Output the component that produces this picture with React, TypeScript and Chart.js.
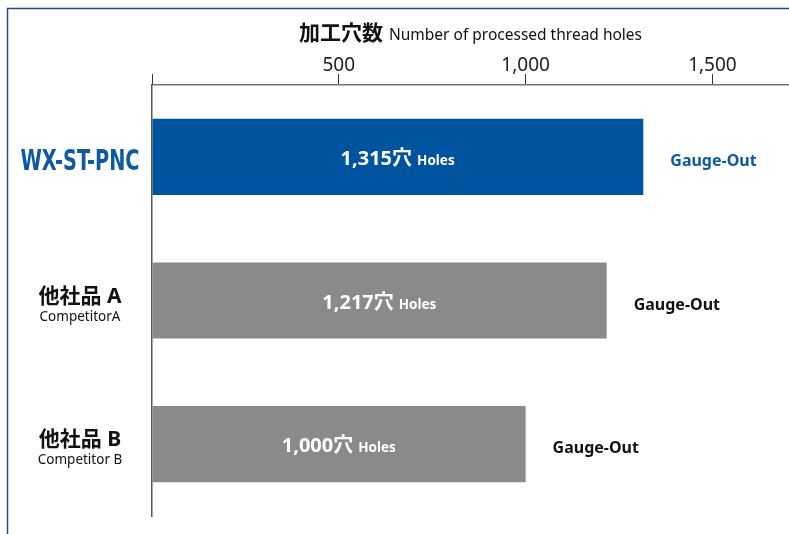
import React, { useEffect, useRef } from 'react';
import { Chart, registerables } from 'chart.js';

Chart.register(...registerables);

// ---- data ----
const categories = ['WX-ST-PNC', '他社品 A', '他社品 B'];
const subLabels = ['', 'CompetitorA', 'Competitor B'];
const values = [1315, 1217, 1000];
const unitJa = '穴';
const unitEn = 'Holes';
const statusLabels = ['Gauge-Out', 'Gauge-Out', 'Gauge-Out'];
const titleJa = '加工穴数';
const titleEn = 'Number of processed thread holes';
const tickValues = [0, 500, 1000, 1500];
const axisMax = 1705;

// ---- styles ----
const BLUE = '#00549f';
const GRAY = '#898a8c';
const TEXT_BLUE = '#0d5aa3';
const FRAME = '#1d4f7f';
const FONT = '"Noto Sans", "Noto Sans CJK JP", sans-serif';
const NARROW = '"Liberation Sans Narrow", "DejaVu Sans Condensed", "Noto Sans", sans-serif';

const fmt = (v: number) => v.toLocaleString('en-US');

export default function App() {
  const ref = useRef<HTMLCanvasElement>(null);

  useEffect(() => {
    const canvas = ref.current!;
    const labelPlugin = {
      id: 'customLabels',
      beforeDraw(chart: any) {
        const ctx = chart.ctx;
        ctx.save();
        ctx.strokeStyle = FRAME;
        ctx.lineWidth = 1.5;
        ctx.beginPath();
        ctx.moveTo(7.5, 534);
        ctx.lineTo(7.5, 8.5);
        ctx.lineTo(789, 8.5);
        ctx.stroke();
        ctx.restore();
      },
      afterDatasetsDraw(chart: any) {
        const ctx = chart.ctx;
        const xs = chart.scales.x;
        const ys = chart.scales.y;
        ctx.save();
        ctx.fillStyle = '#ffffff';
        ctx.textBaseline = 'alphabetic';
        ctx.textAlign = 'left';
        values.forEach((v, i) => {
          const x0 = xs.getPixelForValue(0);
          const x1 = xs.getPixelForValue(v);
          const yc = ys.getPixelForValue(i);
          const main = fmt(v) + unitJa;
          ctx.font = `bold 20px ${FONT}`;
          const w1 = ctx.measureText(main).width;
          ctx.font = `bold 13.5px ${FONT}`;
          const w2 = ctx.measureText(unitEn).width;
          const gap = 5;
          const total = w1 + gap + w2;
          const sx = (x0 + x1) / 2 - total / 2;
          ctx.font = `bold 20px ${FONT}`;
          ctx.fillText(main, sx, yc + 8);
          ctx.font = `bold 13.5px ${FONT}`;
          ctx.fillText(unitEn, sx + w1 + gap, yc + 8);
        });
        ctx.restore();
      },
      afterDraw(chart: any) {
        const ctx = chart.ctx;
        const xs = chart.scales.x;
        const ys = chart.scales.y;
        const area = chart.chartArea;
        ctx.save();
        // title
        ctx.textBaseline = 'alphabetic';
        ctx.textAlign = 'left';
        ctx.fillStyle = '#111111';
        ctx.font = `bold 21px ${FONT}`;
        const wJa = ctx.measureText(titleJa).width;
        ctx.font = `15.5px ${FONT}`;
        const wEn = ctx.measureText(titleEn).width;
        const tGap = 6;
        const tStart = (area.left + area.right) / 2 - (wJa + tGap + wEn) / 2;
        ctx.font = `bold 21px ${FONT}`;
        ctx.fillText(titleJa, tStart, 40);
        ctx.font = `15.5px ${FONT}`;
        ctx.fillText(titleEn, tStart + wJa + tGap, 40);

        // category labels
        const cx = 80;
        categories.forEach((c, i) => {
          const yc = ys.getPixelForValue(i);
          ctx.textAlign = 'center';
          if (!subLabels[i]) {
            ctx.font = `bold 29px ${NARROW}`;
            ctx.fillStyle = TEXT_BLUE;
            const w = ctx.measureText(c).width;
            const target = 119;
            ctx.save();
            ctx.translate(cx, yc + 13);
            ctx.scale(target / w, 1);
            ctx.fillText(c, 0, 0);
            ctx.restore();
          } else {
            ctx.fillStyle = '#111111';
            ctx.font = `bold 21px ${FONT}`;
            ctx.fillText(c, cx, yc + 2);
            ctx.font = `13.5px ${FONT}`;
            ctx.fillText(subLabels[i], cx, yc + 20);
          }
        });

        // status labels
        ctx.textAlign = 'left';
        ctx.font = `bold 16px ${FONT}`;
        statusLabels.forEach((s, i) => {
          const yc = ys.getPixelForValue(i);
          const x1 = xs.getPixelForValue(values[i]);
          ctx.fillStyle = i === 0 ? TEXT_BLUE : '#111111';
          ctx.fillText(s, x1 + 27, yc + 9);
        });
        ctx.restore();
      },
    };

    const chart = new Chart(canvas, {
      type: 'bar',
      data: {
        labels: categories,
        datasets: [
          {
            data: values,
            backgroundColor: [BLUE, GRAY, GRAY],
            barPercentage: 0.53,
            categoryPercentage: 1,
          },
        ],
      },
      options: {
        indexAxis: 'y',
        responsive: false,
        animation: false,
        layout: { padding: { left: 0, top: 0, right: 0, bottom: 18 } },
        plugins: {
          legend: { display: false },
          tooltip: { enabled: false },
          title: { display: false },
        },
        scales: {
          x: {
            position: 'top',
            min: 0,
            max: axisMax,
            afterBuildTicks: (s: any) => {
              s.ticks = tickValues.map((v) => ({ value: v }));
            },
            afterFit: (s: any) => {
              s.height = 85;
            },
            ticks: {
              autoSkip: false,
              maxRotation: 0,
              padding: -3,
              color: '#222222',
              font: { family: FONT, size: 19 },
              callback: (v: any) => (Number(v) === 0 ? '' : fmt(Number(v))),
            },
            grid: {
              drawOnChartArea: false,
              drawTicks: true,
              tickLength: 11,
              color: '#333333',
              lineWidth: 1,
            },
            border: { display: true, color: '#777777', width: 1.5 },
          },
          y: {
            afterFit: (s: any) => {
              s.width = 152;
            },
            ticks: { display: false },
            grid: { display: true, drawOnChartArea: false, drawTicks: false },
            border: { display: true, color: '#555555', width: 1.5 },
          },
        },
      },
      plugins: [labelPlugin],
    } as any);
    return () => chart.destroy();
  }, []);

  return (
    <div style={{ position: 'absolute', left: 0, top: 0, width: 789, height: 534 }}>
      <canvas ref={ref} width={789} height={534} style={{ display: 'block', width: 789, height: 534 }} />
    </div>
  );
}
